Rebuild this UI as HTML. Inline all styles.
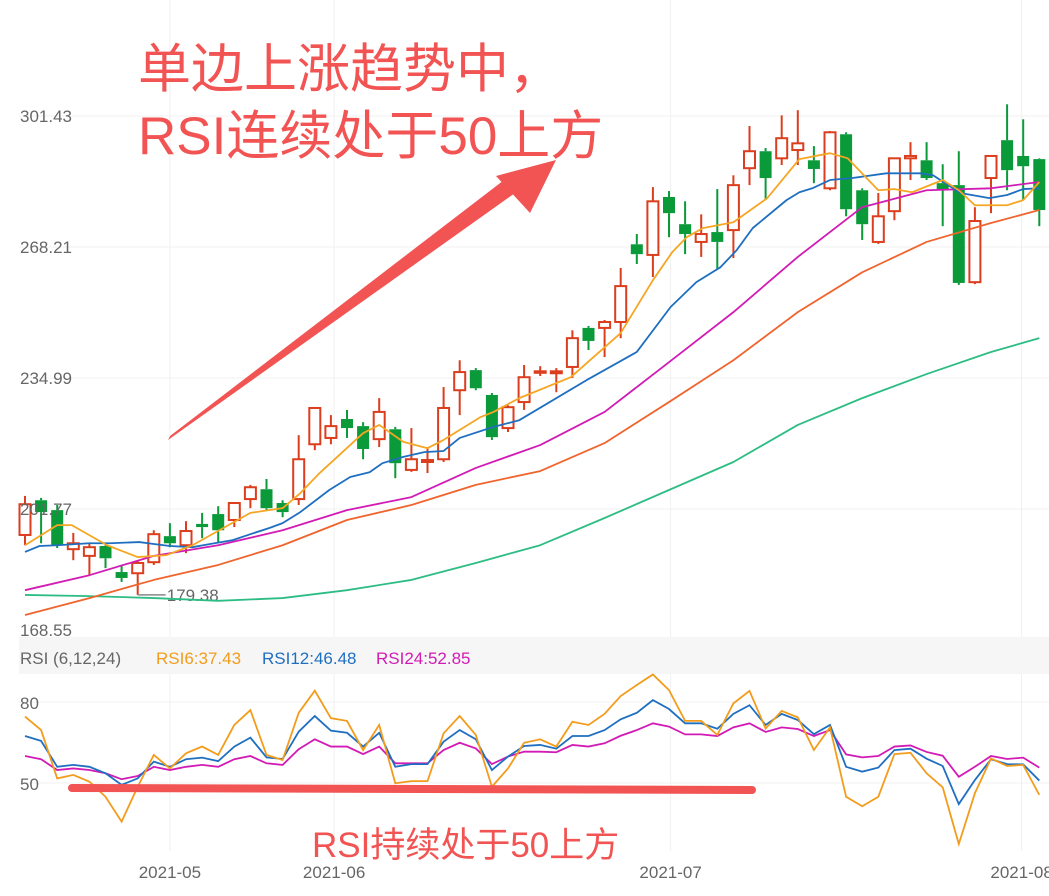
<!DOCTYPE html>
<html><head><meta charset="utf-8">
<style>
html,body{margin:0;padding:0;background:#fff;}
svg{display:block;font-family:"Liberation Sans","Noto Sans CJK SC",sans-serif;}
</style></head>
<body>
<svg id="chart" width="1049" height="896" viewBox="0 0 1049 896" xmlns="http://www.w3.org/2000/svg">
<g id="grid"></g>
<g id="candles"></g>
<g id="mas"></g>
<g id="ylabels"></g>
<rect x="19" y="637" width="1030" height="37" fill="#f6f6f6"/>
<text x="20" y="664" font-size="17" fill="#666">RSI (6,12,24)</text>
<text x="156" y="664" font-size="17" fill="#f39c1c">RSI6:37.43</text>
<text x="262" y="664" font-size="17" fill="#1f6fc1">RSI12:46.48</text>
<text x="376" y="664" font-size="17" fill="#d21bb5">RSI24:52.85</text>
<g id="rsi"></g>
<g id="xlabels"></g>
<text x="138" y="87" font-size="53" fill="#f25353" font-family="Liberation Sans, Noto Sans CJK SC, sans-serif">单边上涨趋势中，</text>
<text x="138" y="154" font-size="53" fill="#f25353" font-family="Liberation Sans, Noto Sans CJK SC, sans-serif">RSI连续处于50上方</text>
<g>
<polygon points="168,440 522,188 512,174 170,436" fill="#f25353"/>
<polygon points="496,176 556,160 530,213" fill="#f25353"/>
</g>
<line x1="72" y1="788" x2="752" y2="790" stroke="#f25353" stroke-width="8" stroke-linecap="round"/>
<text x="312" y="857" font-size="35" fill="#f25353" font-family="Liberation Sans, Noto Sans CJK SC, sans-serif">RSI持续处于50上方</text>
</svg>
<script>
const opens=[195.2,204.0,201.5,191.6,189.9,192.4,185.8,185.5,188.3,194.9,192.6,198.0,200.5,199.0,204.3,206.8,203.3,204.3,218.2,219.8,224.6,222.8,219.5,222.0,211.7,213.7,214.4,231.9,237.0,230.7,222.3,228.9,236.5,236.2,237.8,247.7,247.7,249.2,268.9,266.2,280.9,274.0,269.5,272.0,272.5,288.2,292.5,290.7,292.8,290.2,283.1,296.8,282.6,269.5,277.3,290.7,290.2,284.4,283.9,259.3,285.7,295.3,291.3,290.5];
const highs=[205.1,204.6,202.8,195.7,193.1,192.6,187.6,188.8,196.4,198.2,198.7,200.8,202.5,203.5,207.9,209.4,204.0,220.5,227.6,225.6,226.9,223.8,229.9,222.6,222.3,217.5,232.7,239.5,237.5,231.2,228.1,238.3,238.0,237.5,247.1,248.2,249.7,262.9,271.5,283.4,282.4,279.8,276.5,282.9,286.4,298.9,293.3,301.6,302.9,293.8,297.6,297.3,283.1,281.9,290.7,294.8,294.8,289.2,292.5,278.3,291.5,304.4,300.6,290.7];
const lows=[192.6,193.1,191.9,188.8,185.0,186.8,183.3,180.0,187.6,192.1,190.6,194.4,193.1,197.2,202.0,201.5,199.7,202.8,216.7,218.2,219.8,214.4,217.5,209.6,211.2,210.9,213.7,225.6,231.9,219.3,221.3,226.9,235.5,231.4,235.0,242.1,240.3,245.1,263.9,260.6,270.7,266.4,265.7,262.6,265.4,283.9,280.1,289.0,289.0,284.4,282.6,276.0,270.0,269.0,275.0,285.2,285.2,273.5,258.6,258.8,276.8,282.6,280.1,273.5];
const closes=[203.0,201.0,192.6,193.1,192.1,189.3,184.3,188.1,195.4,193.1,196.2,197.2,196.4,203.3,207.3,202.0,201.0,214.4,227.4,222.8,222.3,217.0,226.4,213.4,214.4,214.2,227.4,236.5,232.4,220.0,227.6,235.2,236.7,236.7,245.1,244.4,249.2,258.3,266.4,279.8,276.8,271.5,271.5,269.5,283.9,292.5,285.7,295.8,294.5,288.0,297.3,277.8,274.0,276.0,290.7,291.3,285.7,282.6,259.1,274.8,291.3,287.7,288.7,277.6];
// MA samples (candle-index positions and values)
const ma5Idx=[0,2,2.9,5.1,7,8.8,10.4,14,16,17.1,18.3,21,22,23.5,25,26,28.3,29.1,30.7,33.9,37,39,40.2,41.1,42.1,44,46.1,48.1,50,51.1,53,54,55.1,57,58,59,61,62,63];
const ma5=[192.6,197.7,197.7,192.6,189.6,190.1,192.6,200.8,202.0,205.8,210.9,221.0,223.1,218.8,217.2,219.3,225.1,226.4,229.9,235.2,246.4,259.8,266.9,270.7,273.0,274.5,280.6,290.5,292.0,290.7,282.6,282.9,282.1,285.2,282.6,278.8,278.8,280.1,284.7];
const ma10Idx=[0,0.9,2,4,5.3,7.1,8,9,10.4,11.5,12.9,14,15.2,16,17.1,18.9,20.2,21.4,22.2,23.5,24.8,26,27,29.1,30.7,34.9,38,40.1,41.7,43.2,44.2,45.2,47.3,48.1,48.9,50,51.4,53.5,55.6,56.4,58.1,59.9,61,62,63];
const ma10=[190.9,192.4,192.6,193.1,193.1,193.4,192.9,192.4,192.1,192.9,193.9,195.4,197.0,198.2,201.0,206.6,209.9,211.1,213.4,215.0,216.2,216.5,219.8,222.6,224.3,234.5,241.6,253.0,259.3,263.1,267.4,273.0,280.1,282.1,283.1,285.2,285.7,286.9,286.9,286.4,281.9,280.6,281.4,282.9,283.1];
const maIdx=[0,4,8,12,16,20,24,28,32,36,40,44,48,52,56,60,63];
const ma20=[181.2,185.0,189.9,192.6,196.4,201.5,204.8,212.2,218.0,226.4,239.0,251.7,265.7,278.3,282.6,283.1,284.7];
const ma30=[174.9,179.2,183.8,187.6,192.6,199.0,202.8,207.9,211.4,218.5,228.9,239.5,251.7,261.8,269.5,274.3,277.6];
const ma60=[180.0,179.7,179.2,178.5,179.2,181.2,183.8,188.1,192.6,199.5,206.6,213.7,223.1,229.9,236.0,241.6,245.1];
const priceTicks=["301.43","268.21","234.99","201.77","168.55"];
const rsi6=[74.6,69.6,51.7,53.0,50.5,44.9,35.7,48.6,60.4,55.4,61.0,63.5,60.4,71.5,77.0,60.4,58.5,76.0,84.2,74.0,73.0,62.2,71.5,49.9,50.7,50.7,68.4,74.8,67.8,48.6,55.4,64.9,66.2,63.5,72.7,71.5,75.6,82.2,86.3,90.2,84.4,73.0,73.0,67.8,79.5,84.1,70.2,76.7,74.3,62.2,70.6,44.9,41.4,44.9,60.7,61.2,53.6,48.4,27.4,46.2,59.1,56.3,56.7,45.6];
const rsi12=[67.4,65.6,56.0,56.7,56.0,53.6,49.3,51.7,57.9,56.0,58.8,59.4,58.1,63.5,66.8,59.5,58.9,69.0,74.8,69.4,68.6,63.5,68.6,56.0,57.0,57.0,65.3,69.6,66.2,54.8,59.8,63.7,64.1,62.7,67.4,67.4,69.6,73.6,76.0,80.7,77.4,72.1,72.1,70.1,75.6,78.8,71.5,75.6,73.3,68.1,71.5,56.0,54.2,55.7,62.2,62.7,59.0,56.3,42.2,51.1,58.8,57.0,56.9,50.9];
const rsi24=[60.0,58.8,54.8,55.4,54.8,53.6,51.4,52.6,56.0,54.8,56.0,56.7,56.0,58.8,60.0,57.3,56.7,62.5,66.2,63.5,63.5,60.7,63.5,57.3,57.3,57.3,62.2,64.9,62.8,57.0,59.8,61.6,61.6,61.4,64.1,63.5,64.7,67.5,69.6,72.1,70.9,68.0,68.0,67.4,70.6,72.1,68.9,70.6,70.0,67.4,69.6,60.6,59.5,60.0,63.5,63.9,61.5,60.1,52.3,56.0,60.0,58.9,59.4,55.7];
const rsiTicks=[80,50];
const dateLabels=["2021-05","2021-06","2021-07","2021-08"];
const dateIdx=[9.0,19.2,40.1,61.9];

const NS="http://www.w3.org/2000/svg";
function mk(tag,attrs,parent){const e=document.createElementNS(NS,tag);for(const k in attrs)e.setAttribute(k,attrs[k]);parent.appendChild(e);return e;}
const X=i=>25+16.1*i;
const Y=p=>116+(301.43-p)*3.944;
const RY=v=>783-(v-50)*2.7;
const grid=document.getElementById('grid');
priceTicks.forEach(t=>{const l=mk('line',{x1:19,x2:1049,y1:Y(+t),y2:Y(+t),stroke:'#f0f0f0','stroke-width':1},grid);

});
rsiTicks.forEach(t=>{const l=mk('line',{x1:19,x2:1049,y1:RY(t),y2:RY(t),stroke:'#f0f0f0','stroke-width':1},grid);

});
dateIdx.forEach(d=>{const l=mk('line',{x1:X(d),x2:X(d),y1:0,y2:851,stroke:'#f0f0f0','stroke-width':1},grid);

});
const cg=document.getElementById('candles');
opens.forEach((o,i)=>{
 const c=closes[i],up=c>=o,col=up?'#dc3d1c':'#0a9a3a';
 const g=mk('g',{},cg);
 
 
 const top=Y(Math.max(o,c)),bot=Y(Math.min(o,c)),x=X(i);
 mk('line',{x1:x,x2:x,y1:Y(highs[i]),y2:top,stroke:col,'stroke-width':2},g);
 mk('line',{x1:x,x2:x,y1:bot,y2:Y(lows[i]),stroke:col,'stroke-width':2},g);
 if(up) mk('rect',{x:x-5.5,y:top,width:11,height:Math.max(bot-top,1.5),fill:'#fff',stroke:col,'stroke-width':2},g);
 else mk('rect',{x:x-6,y:top,width:12,height:Math.max(bot-top,2),fill:col},g);
});
let li=0;lows.forEach((v,i)=>{if(v<lows[li])li=i;});
const lm=mk('line',{x1:X(li),x2:X(li)+28,y1:Y(lows[li]),y2:Y(lows[li]),stroke:'#888','stroke-width':1.5},cg);


const lt=mk('text',{x:X(li)+29,y:Y(lows[li])+6,'font-size':17,fill:'#666'},cg);


lt.textContent="179.38";
const mg=document.getElementById('mas');
[[ma60,maIdx,'#2dbd84','ma60-line'],[ma30,maIdx,'#f0642d','ma30-line'],[ma20,maIdx,'#d21bb5','ma20-line'],[ma10,ma10Idx,'#1f6fc1','ma10-line'],[ma5,ma5Idx,'#f5a623','ma5-line']].forEach(([arr,idx,col,nm])=>{
 const p=mk('polyline',{points:arr.map((v,k)=>X(idx[k])+','+Y(v)).join(' '),fill:'none',stroke:col,'stroke-width':1.8,'stroke-linejoin':'round'},mg);
 
 
});
const yl=document.getElementById('ylabels');
priceTicks.forEach((t,k)=>{const e=mk('text',{x:20,y:k==priceTicks.length-1?636:Y(+t)+6,'font-size':17,fill:'#666'},yl);


e.textContent=t;});
const rg=document.getElementById('rsi');
rsiTicks.forEach(t=>{const e=mk('text',{x:20,y:RY(t)+7,'font-size':17,fill:'#666'},rg);


e.textContent=t;});
[[rsi24,'#d21bb5','rsi24-line'],[rsi12,'#1f6fc1','rsi12-line'],[rsi6,'#f39c1c','rsi6-line']].forEach(([arr,col,nm])=>{
 const p=mk('polyline',{points:arr.map((v,i)=>X(i)+','+RY(v)).join(' '),fill:'none',stroke:col,'stroke-width':1.8},rg);
 
 
});
const xl=document.getElementById('xlabels');
dateLabels.forEach((d,k)=>{const e=mk('text',{x:X(dateIdx[k]),y:878,'font-size':17,fill:'#666','text-anchor':'middle'},xl);


e.textContent=d;});
</script>
</body></html>
